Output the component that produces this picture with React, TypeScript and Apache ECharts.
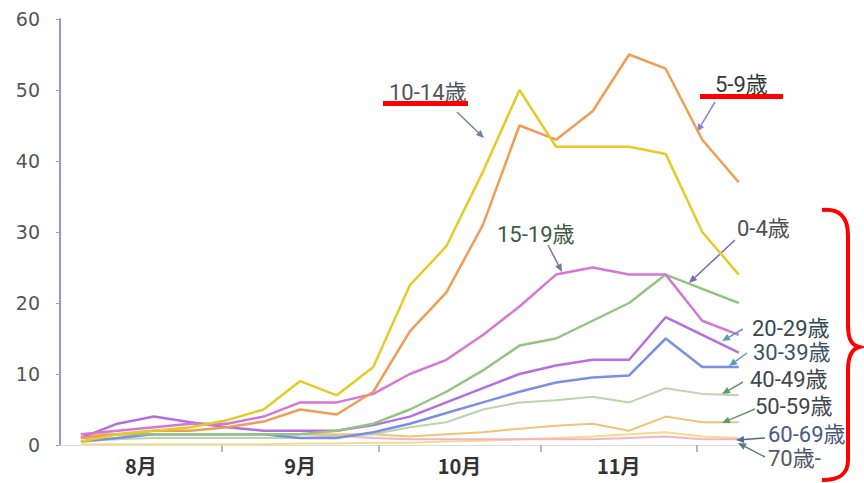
import React, { useEffect, useRef } from 'react';
import * as echarts from 'echarts';

// weekly reporting dates (2009)
const weekDates = [
  '2009-08-05', '2009-08-12', '2009-08-19', '2009-08-26', '2009-09-02', '2009-09-09', '2009-09-16',
  '2009-09-23', '2009-09-30', '2009-10-07', '2009-10-14', '2009-10-21', '2009-10-28', '2009-11-04',
  '2009-11-11', '2009-11-18', '2009-11-25', '2009-12-02', '2009-12-09',
];
const monthStarts = ['2009-08-01', '2009-09-01', '2009-10-01', '2009-11-01', '2009-12-01'];
const monthNames = ['8月', '9月', '10月', '11月'];

const age0_4 = [1, 1.5, 1.5, 1.5, 1.5, 1.5, 1.5, 2, 3, 5, 7.5, 10.5, 14, 15, 17.5, 20, 24, 22, 20];
const age5_9 = [1, 1.5, 2, 2, 2.5, 3.3, 5, 4.3, 7.5, 16, 21.5, 31, 45, 43, 47, 55, 53, 43, 37];
const age10_14 = [0.5, 1.5, 2, 2.5, 3.5, 5, 9, 7, 11, 22.5, 28, 38.5, 50, 42, 42, 42, 41, 30, 24];
const age15_19 = [1.5, 2, 2.5, 3, 3, 4, 6, 6, 7.2, 10, 12, 15.5, 19.5, 24, 25, 24, 24, 17.5, 15.5];
const age20_29 = [1, 3, 4, 3.2, 2.5, 2, 2, 2, 2.8, 4, 6, 8, 10, 11.2, 12, 12, 18, 15.5, 13];
const age30_39 = [0.5, 1, 1.5, 1.5, 1.5, 1.5, 1, 1, 1.8, 3, 4.5, 6, 7.5, 8.8, 9.5, 9.8, 15, 11, 11];
const age40_49 = [0.5, 0.8, 1, 1, 1, 1, 1, 1.2, 1.5, 2.5, 3.2, 5, 6, 6.3, 6.8, 6, 8, 7.2, 7];
const age50_59 = [1.5, 1.5, 1.5, 1.5, 1.5, 1.5, 1.5, 1.5, 1.5, 1.2, 1.5, 1.8, 2.3, 2.7, 3, 2, 4, 3.2, 3.2];
const age60_69 = [1.5, 1.5, 1.5, 1.5, 1.5, 1.5, 1.5, 1.3, 1, 0.8, 0.8, 0.8, 0.8, 0.8, 0.8, 1, 1.2, 0.8, 0.8];
const age70 = [0.1, 0.1, 0.1, 0.1, 0.1, 0.1, 0.2, 0.2, 0.3, 0.3, 0.5, 0.6, 0.8, 1, 1.2, 1.5, 1.8, 1.2, 1];

const seriesNames = ['70歳-', '60-69歳', '50-59歳', '40-49歳', '30-39歳', '20-29歳', '0-4歳', '15-19歳', '5-9歳', '10-14歳'];
const seriesValues = [age70, age60_69, age50_59, age40_49, age30_39, age20_29, age0_4, age15_19, age5_9, age10_14];
const seriesColors = ['#f3dc8c', '#f2b4c4', '#f0c474', '#bcd4ac', '#7b8fe4', '#b56ee0', '#92c584', '#d676d6', '#ef9c55', '#e6cb26'];
const seriesWidths = [2, 2, 2, 2, 2.5, 2.5, 2.5, 2.5, 2.5, 2.5];

const DAY = 86400000;
const origin = Date.parse(monthStarts[0] + 'T00:00:00Z');
const dayOf = (s: string) => (Date.parse(s + 'T00:00:00Z') - origin) / DAY;
const weekDays = weekDates.map(dayOf);
const monthDays = monthStarts.map(dayOf);
const labelDays = monthNames.map((_, i) => (monthDays[i] + monthDays[i + 1]) / 2);

const LABEL_FONT = '22px Roboto, "Noto Sans CJK JP", sans-serif';

function arrow(x1: number, y1: number, x2: number, y2: number, color: string) {
  const a = Math.atan2(y2 - y1, x2 - x1);
  const L = 8, W = 3.5;
  const bx = x2 - L * Math.cos(a), by = y2 - L * Math.sin(a);
  const lx = bx + W * Math.sin(a), ly = by - W * Math.cos(a);
  const rx = bx - W * Math.sin(a), ry = by + W * Math.cos(a);
  return [
    { type: 'line', shape: { x1, y1, x2: bx, y2: by }, style: { stroke: color, lineWidth: 1.5 }, z: 10 },
    { type: 'polygon', shape: { points: [[x2, y2], [lx, ly], [rx, ry]] }, style: { fill: color }, z: 10 },
  ];
}

function label(text: string, x: number, y: number, color: string) {
  return { type: 'text', x, y, style: { text, font: LABEL_FONT, fill: color, textAlign: 'left', textVerticalAlign: 'middle' }, z: 10 };
}

echarts.graphic.registerShape(
  'brace',
  echarts.graphic.extendPath(
    'M822 210 C840 208 848 218 848 235 L848 325 C848 340 852 345 859 347 C852 349 848 355 848 370 L848 460 C848 474 840 480 822 480',
    {}
  )
);

export default function App() {
  const ref = useRef<HTMLDivElement>(null);
  useEffect(() => {
    if (!ref.current) return;
    const chart = echarts.init(ref.current, null, { renderer: 'svg' });
    const graphics: any[] = [
      label('10-14歳', 389, 92, '#505458'),
      { type: 'rect', shape: { x: 383, y: 101, width: 85, height: 5 }, style: { fill: '#ff0000' }, z: 11 },
      ...arrow(457, 112, 484, 138, '#6a88a0'),
      label('5-9歳', 715, 84, '#333a38'),
      { type: 'rect', shape: { x: 700, y: 94, width: 83, height: 5 }, style: { fill: '#ff0000' }, z: 11 },
      ...arrow(715, 102, 697, 132, '#9080d0'),
      label('15-19歳', 497, 234, '#3d5a44'),
      ...arrow(548, 245, 562, 272, '#8070a0'),
      label('0-4歳', 737, 228, '#505050'),
      ...arrow(735, 240, 689, 283, '#7868b0'),
      label('20-29歳', 752, 328, '#34484c'),
      ...arrow(743, 329, 722, 341, '#5c9cb0'),
      label('30-39歳', 753, 352, '#3a5468'),
      ...arrow(747, 353, 729, 366, '#5c9cb0'),
      label('40-49歳', 750, 379, '#404848'),
      ...arrow(743, 382, 722, 394, '#5c9c68'),
      label('50-59歳', 755, 406, '#40464e'),
      ...arrow(755, 409, 722, 423, '#5c9c68'),
      label('60-69歳', 768, 434, '#4a5a80'),
      ...arrow(765, 438, 736, 440, '#4c6c98'),
      label('70歳-', 768, 458, '#525866'),
      ...arrow(765, 457, 738, 443, '#5c7c70'),
      { type: 'brace', x: 0, y: 0, style: { stroke: '#ff0000', fill: 'none', lineWidth: 4 }, z: 11 },
    ];
    chart.setOption({
      animation: false,
      backgroundColor: '#ffffff',
      grid: { left: 60, right: 120, top: 19, bottom: 38, containLabel: false },
      xAxis: {
        type: 'value',
        min: 0,
        max: 131,
        axisLine: { show: true, lineStyle: { color: '#dcdcdc', width: 1 } },
        axisTick: { show: true, customValues: monthDays.slice(1), length: 7, lineStyle: { color: '#98aaa0', width: 1.5 } },
        axisLabel: {
          customValues: labelDays,
          margin: 10,
          fontSize: 20,
          fontWeight: 'bold',
          color: '#333',
          fontFamily: '"Noto Sans CJK JP", sans-serif',
          formatter: (v: number) => {
            const i = labelDays.findIndex((d) => Math.abs(d - v) < 0.01);
            return i >= 0 ? monthNames[i] : '';
          },
        },
        splitLine: { show: false },
      },
      yAxis: {
        type: 'value',
        min: 0,
        max: 60,
        interval: 10,
        axisLine: { show: true, lineStyle: { color: '#a08fe0', width: 2 } },
        axisTick: { show: true, length: 4, lineStyle: { color: '#a08fe0' } },
        axisLabel: { fontSize: 19, color: '#555', margin: 20, fontFamily: '"DejaVu Sans", sans-serif' },
        splitLine: { show: false },
      },
      series: seriesNames.map((name, k) => ({
        name,
        type: 'line',
        showSymbol: false,
        symbol: 'none',
        data: weekDays.map((d, i) => [d, seriesValues[k][i]]),
        lineStyle: { color: seriesColors[k], width: seriesWidths[k] },
        z: 2 + k,
      })),
      graphic: graphics,
    });
    return () => chart.dispose();
  }, []);
  return <div ref={ref} style={{ position: 'fixed', left: 0, top: 0, width: 864, height: 483 }} />;
}
